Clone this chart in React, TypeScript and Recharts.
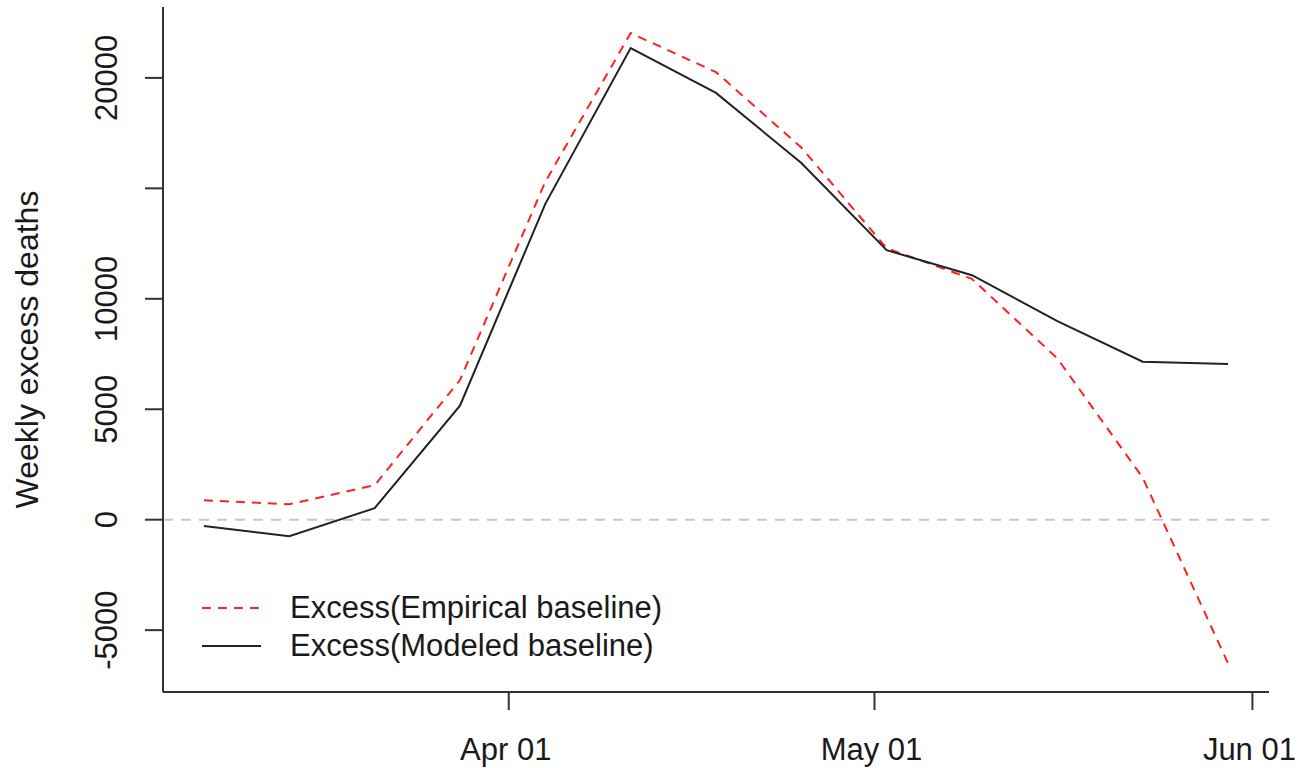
import React from 'react';
import { LineChart, Line, XAxis, YAxis, ReferenceLine } from 'recharts';

// Week-ending dates of the weekly series
const weekEnding = [
  '2020-03-07', '2020-03-14', '2020-03-21', '2020-03-28', '2020-04-04',
  '2020-04-11', '2020-04-18', '2020-04-25', '2020-05-02', '2020-05-09',
  '2020-05-16', '2020-05-23', '2020-05-30'
];

const empiricalExcess = [880, 700, 1560, 6320, 15300, 22030, 20260, 16850, 12290, 10900, 7300, 1900, -6500];
const modeledExcess = [-290, -750, 520, 5160, 14300, 21350, 19320, 16150, 12200, 11070, 8990, 7150, 7050];

const xTickDates = ['2020-04-01', '2020-05-01', '2020-06-01'];
const xTickLabels = ['Apr 01', 'May 01', 'Jun 01'];
const yTicks = [-5000, 0, 5000, 10000, 15000, 20000];
const yTickLabels = ['-5000', '0', '5000', '10000', '', '20000'];

const FONT = '"Liberation Sans", Arial, sans-serif';
const DAY = 24 * 3600 * 1000;
const origin = Date.parse(weekEnding[0]);
const toDay = (d: string) => Math.round((Date.parse(d) - origin) / DAY);

const data = weekEnding.map((d, i) => ({
  day: toDay(d),
  empirical: empiricalExcess[i],
  modeled: modeledExcess[i]
}));

const xTicks = xTickDates.map(toDay);
const span = data[data.length - 1].day - data[0].day;
const xDomain = [data[0].day - span * 0.04, data[data.length - 1].day + span * 0.04];

const YTick = ({ y, payload }: any) => {
  const idx = yTicks.indexOf(payload.value);
  const label = idx >= 0 ? yTickLabels[idx] : '';
  const tx = 107;
  return (
    <text
      x={tx}
      y={y}
      transform={`rotate(-90, ${tx}, ${y})`}
      textAnchor="middle"
      dominantBaseline="central"
      fontFamily={FONT}
      fontSize={31}
      fill="#1a1a1a"
    >
      {label}
    </text>
  );
};

const XTick = ({ x, payload }: any) => {
  const idx = xTicks.indexOf(payload.value);
  return (
    <text x={x - 3} y={760} textAnchor="middle" fontFamily={FONT} fontSize={31} fill="#1a1a1a">
      {idx >= 0 ? xTickLabels[idx] : ''}
    </text>
  );
};

const legendRows = [
  { label: 'Excess(Empirical baseline)', color: '#ff2020', dash: '9 7' },
  { label: 'Excess(Modeled baseline)', color: '#222', dash: undefined }
];

const ChartLegend = () => (
  <div style={{ position: 'absolute', left: 200, top: 589, fontFamily: FONT, fontSize: 31, color: '#1a1a1a' }}>
    {legendRows.map((r, i) => (
      <div key={i} style={{ display: 'flex', alignItems: 'center', height: 38 }}>
        <svg width={90} height={10}>
          <line x1={2} y1={5} x2={61} y2={5} stroke={r.color} strokeWidth={2} strokeDasharray={r.dash} />
        </svg>
        <span style={{ lineHeight: '38px', whiteSpace: 'nowrap' }}>{r.label}</span>
      </div>
    ))}
  </div>
);

const App: React.FC = () => {
  return (
    <div style={{ position: 'absolute', left: 0, top: 0, width: 1302, height: 768, background: '#fff' }}>
      <LineChart width={1302} height={768} data={data} margin={{ top: 7, right: 33, bottom: 0, left: 0 }}>
        <XAxis
          dataKey="day"
          type="number"
          domain={xDomain}
          ticks={xTicks}
          allowDataOverflow
          height={76}
          tickSize={18}
          tick={<XTick />}
          axisLine={{ stroke: '#333', strokeWidth: 2 }}
          tickLine={{ stroke: '#333', strokeWidth: 2 }}
        />
        <YAxis
          type="number"
          domain={[-7800, 23210]}
          ticks={yTicks}
          allowDataOverflow
          width={163}
          tickSize={18}
          tick={<YTick />}
          axisLine={{ stroke: '#333', strokeWidth: 2 }}
          tickLine={{ stroke: '#333', strokeWidth: 2 }}
          label={{
            value: 'Weekly excess deaths',
            angle: -90,
            position: 'insideLeft',
            dx: 22,
            dy: 0,
            style: { fontFamily: FONT, fontSize: 32, fill: '#1a1a1a', textAnchor: 'middle' }
          }}
        />
        <ReferenceLine y={0} stroke="#c8c8c8" strokeWidth={2} strokeDasharray="10 8" />
        <Line
          type="linear"
          dataKey="empirical"
          stroke="#ff2020"
          strokeWidth={2}
          strokeDasharray="9 7"
          dot={false}
          isAnimationActive={false}
        />
        <Line
          type="linear"
          dataKey="modeled"
          stroke="#222"
          strokeWidth={2}
          dot={false}
          isAnimationActive={false}
        />
      </LineChart>
      <ChartLegend />
    </div>
  );
};

export default App;
